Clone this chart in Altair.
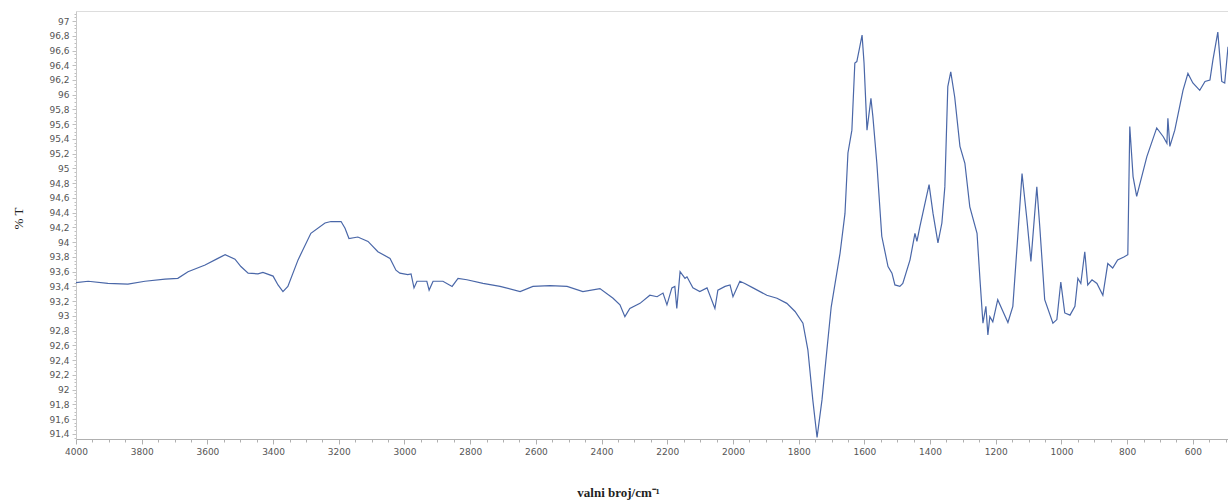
import altair as alt
import pandas as pd

wavenumber = [
    4000, 3963, 3903, 3842, 3790, 3729, 3690, 3659, 3607, 3568, 3546, 3516, 3498, 3476, 3446,
    3431, 3400, 3385, 3370, 3355, 3324, 3285, 3242, 3224, 3193, 3181, 3169, 3142, 3111, 3081,
    3044, 3026, 3014, 2990, 2980, 2971, 2962, 2932, 2925, 2913, 2883, 2855, 2837, 2810, 2761,
    2709, 2648, 2609, 2557, 2505, 2457, 2405, 2365, 2344, 2329, 2314, 2283, 2253, 2231, 2213,
    2201, 2186, 2177, 2171, 2161, 2146, 2140, 2122, 2101, 2079, 2055, 2046, 2024, 2009, 2000,
    1979, 1964, 1939, 1897, 1866, 1836, 1811, 1787, 1772, 1757, 1744, 1729, 1714, 1701, 1674,
    1659, 1650, 1638, 1629, 1623, 1614, 1607, 1601, 1592, 1580, 1574, 1562, 1547, 1528, 1516,
    1507, 1492, 1483, 1461, 1446, 1440, 1431, 1403, 1391, 1376, 1364, 1355, 1346, 1337, 1325,
    1309, 1294, 1279, 1257, 1248, 1239, 1230, 1224, 1218, 1209, 1194, 1178, 1163, 1148, 1133,
    1120, 1105, 1093, 1075, 1066, 1051, 1026, 1014, 1002, 990, 974, 959, 950, 941, 929,
    920, 907, 892, 874, 859, 844, 829, 810, 798, 792, 782, 771, 740, 710, 690,
    679, 676, 670, 655, 630, 615, 600, 579, 563, 548, 539, 524, 512, 503, 493,
]
transmittance = [
    93.45, 93.47, 93.44, 93.43, 93.47, 93.50, 93.51, 93.60, 93.69, 93.78, 93.83, 93.77, 93.67, 93.58, 93.57,
    93.59, 93.54, 93.42, 93.33, 93.40, 93.76, 94.12, 94.26, 94.28, 94.28, 94.19, 94.05, 94.07, 94.01, 93.87,
    93.78, 93.62, 93.58, 93.56, 93.57, 93.38, 93.47, 93.47, 93.35, 93.47, 93.47, 93.40, 93.51, 93.49, 93.44,
    93.40, 93.33, 93.40, 93.41, 93.40, 93.33, 93.37, 93.24, 93.15, 92.99, 93.10, 93.17, 93.28, 93.26, 93.31,
    93.15, 93.38, 93.40, 93.10, 93.60, 93.51, 93.53, 93.38, 93.33, 93.38, 93.10, 93.35, 93.40, 93.42, 93.26,
    93.47, 93.44, 93.38, 93.28, 93.24, 93.17, 93.06, 92.90, 92.54, 91.86, 91.35, 91.86, 92.54, 93.12, 93.85,
    94.39, 95.21, 95.52, 96.43, 96.45, 96.65, 96.81, 96.43, 95.52, 95.95, 95.70, 95.07, 94.08, 93.67, 93.58,
    93.42, 93.40, 93.44, 93.76, 94.12, 94.01, 94.21, 94.78, 94.39, 93.99, 94.26, 94.75, 96.11, 96.31, 95.97,
    95.30, 95.07, 94.48, 94.12, 93.49, 92.90, 93.13, 92.74, 92.99, 92.92, 93.22, 93.06, 92.91, 93.13, 94.08,
    94.93, 94.30, 93.74, 94.75, 94.21, 93.22, 92.90, 92.95, 93.46, 93.04, 93.01, 93.13, 93.51, 93.44, 93.87,
    93.42, 93.49, 93.44, 93.28, 93.71, 93.65, 93.76, 93.80, 93.83, 95.57, 94.89, 94.62, 95.16, 95.55, 95.43,
    95.34, 95.68, 95.30, 95.52, 96.06, 96.29, 96.16, 96.06, 96.18, 96.20, 96.47, 96.85, 96.18, 96.16, 96.65,
]

x_ticks = list(range(4000, 492, -50))
y_ticks = [round(91.35 + 0.05 * i, 2) for i in range(116)]

df = pd.DataFrame({"wn": wavenumber, "T": transmittance})

x_axis = alt.Axis(
    title="valni broj/cm⁻¹",
    values=x_ticks,
    labelExpr="datum.value % 200 === 0 ? toString(datum.value) : ''",
    labelOverlap=False,
    labelFlush=False,
    labelFont="DejaVu Sans",
    labelFontSize=9,
    labelColor="#555555",
    labelPadding=3,
    tickSize={"condition": {"test": "datum.value % 200 === 0", "value": 5}, "value": 3},
    tickColor="#b0b0b0",
    domainColor="#b0b0b0",
    grid=False,
    titleFont="Liberation Serif",
    titleFontSize=13,
    titleFontWeight="bold",
    titleColor="#222222",
    titleX=542,
    titleY=53,
    titleBaseline="middle",
)

y_axis = alt.Axis(
    title="% T",
    values=y_ticks,
    labelExpr="abs(datum.value*5 - round(datum.value*5)) < 0.001 ? replace(format(datum.value, '.1~f'), '.', ',') : ''",
    labelOverlap=False,
    labelFlush=False,
    labelFont="DejaVu Sans",
    labelFontSize=9,
    labelColor="#555555",
    labelPadding=3,
    tickSize={"condition": {"test": "abs(datum.value*5 - round(datum.value*5)) < 0.001", "value": 4}, "value": 2},
    tickColor="#c0c0c0",
    domainColor="#c8c8c8",
    grid=False,
    titleFont="Liberation Serif",
    titleFontSize=13,
    titleFontWeight="normal",
    titleColor="#222222",
    titleX=-58,
    titleY=207,
    titleBaseline="middle",
    titleAngle=270,
)

chart = (
    alt.Chart(df)
    .mark_line(color="#4a67a8", strokeWidth=1.2, clip=True)
    .encode(
        x=alt.X("wn:Q", scale=alt.Scale(domain=[493, 4000], reverse=True, nice=False, zero=False), axis=x_axis),
        y=alt.Y("T:Q", scale=alt.Scale(domain=[91.33, 97.136], nice=False, zero=False), axis=y_axis),
        order=alt.Order("wn:Q", sort="descending"),
    )
    .properties(
        width=1152,
        height=428,
        autosize=alt.AutoSizeParams(type="none"),
        padding={"left": 76, "top": 11, "right": 0, "bottom": 65},
    )
    .configure_view(stroke=None)
    .configure(background="white")
)

chart.save("out.html", embed_options={"renderer": "svg", "actions": False})
